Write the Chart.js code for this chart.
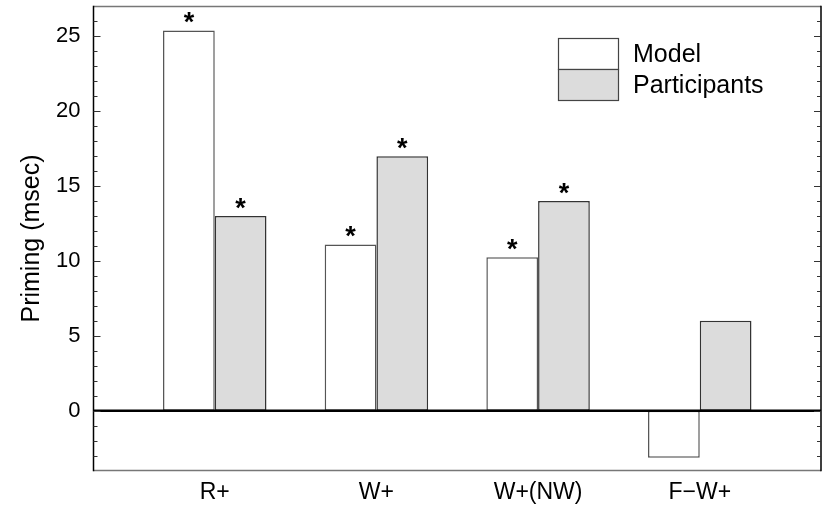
<!DOCTYPE html>
<html>
<head>
<meta charset="utf-8">
<script src="https://cdn.jsdelivr.net/npm/chart.js@4.4.1/dist/chart.umd.min.js"></script>
<style>
html,body{margin:0;padding:0;background:#fff;}
canvas{display:block;}
</style>
</head>
<body>
<canvas id="c" width="823" height="507"></canvas>
<script>
const categories = ['R+', 'W+', 'W+(NW)', 'F\u2212W+'];
const modelValues = [25.4, 11.1, 10.25, -3.15];
const participantValues = [13.0, 17.0, 14.0, 6.0];
const modelSignificant = [true, true, true, false];
const participantSignificant = [true, true, true, false];
const yTickValues = [0, 5, 10, 15, 20, 25];
const seriesNames = ['Model', 'Participants'];

const FONT = '"Liberation Sans", Arial, Helvetica, sans-serif';

const overlay = {
  id: 'overlay',
  afterDatasetsDraw(chart) {
    const ctx = chart.ctx;
    const ca = chart.chartArea;
    const ys = chart.scales.y;
    ctx.save();
    // zero line
    const y0 = ys.getPixelForValue(0);
    ctx.strokeStyle = '#000';
    ctx.lineWidth = 2.5;
    ctx.beginPath(); ctx.moveTo(ca.left, y0); ctx.lineTo(ca.right, y0); ctx.stroke();
    // box
    ctx.lineWidth = 1.5;
    ctx.strokeStyle = '#777';
    ctx.beginPath();
    ctx.moveTo(ca.left, ca.top); ctx.lineTo(ca.right, ca.top);
    ctx.moveTo(ca.left, ca.bottom); ctx.lineTo(ca.right, ca.bottom);
    ctx.stroke();
    ctx.strokeStyle = '#000';
    ctx.beginPath();
    ctx.moveTo(ca.left, ca.top - 0.75); ctx.lineTo(ca.left, ca.bottom + 0.75);
    ctx.moveTo(ca.right, ca.top - 0.75); ctx.lineTo(ca.right, ca.bottom + 0.75);
    ctx.stroke();
    // inward ticks
    ctx.strokeStyle = '#333';
    ctx.lineWidth = 1;
    for (let v = Math.ceil(ys.min); v < ys.max; v++) {
      if (v <= ys.min) continue;
      const py = Math.round(ys.getPixelForValue(v)) + 0.5;
      const len = (v % 5 === 0) ? 7 : 4;
      ctx.beginPath();
      ctx.moveTo(ca.left, py); ctx.lineTo(ca.left + len, py);
      ctx.moveTo(ca.right, py); ctx.lineTo(ca.right - len, py);
      ctx.stroke();
    }
    // asterisks
    ctx.fillStyle = '#000';
    ctx.font = 'bold 27px ' + FONT;
    ctx.textAlign = 'center';
    ctx.textBaseline = 'alphabetic';
    const sigs = [modelSignificant, participantSignificant];
    chart.data.datasets.forEach((ds, di) => {
      const meta = chart.getDatasetMeta(di);
      meta.data.forEach((bar, i) => {
        if (!sigs[di][i]) return;
        const top = Math.min(bar.y, bar.base);
        ctx.fillText('*', bar.x, top + 0.5);
      });
    });
    // legend
    const lx = 558.5, ly = 38.5, bw = 60, bh = 31;
    chart.data.datasets.forEach((ds, di) => {
      const by = ly + di * bh;
      ctx.fillStyle = ds.backgroundColor;
      ctx.fillRect(lx, by, bw, bh);
      ctx.strokeStyle = '#444';
      ctx.lineWidth = 1.2;
      ctx.strokeRect(lx, by, bw, bh);
      ctx.fillStyle = '#000';
      ctx.font = '25px ' + FONT;
      ctx.textAlign = 'left';
      ctx.textBaseline = 'middle';
      ctx.fillText(seriesNames[di], 633, by + bh / 2 + 1);
    });
    ctx.restore();
  }
};

new Chart(document.getElementById('c'), {
  type: 'bar',
  data: {
    datasets: [
      {
        label: seriesNames[0],
        data: modelValues.map((v, i) => ({x: i, y: v})),
        backgroundColor: '#ffffff',
        borderColor: '#555555',
        borderWidth: 1.5,
        borderSkipped: false
      },
      {
        label: seriesNames[1],
        data: participantValues.map((v, i) => ({x: i, y: v})),
        backgroundColor: '#dcdcdc',
        borderColor: '#333333',
        borderWidth: 1.5,
        borderSkipped: false
      }
    ]
  },
  options: {
    responsive: false,
    animation: false,
    devicePixelRatio: 1,
    layout: {padding: {top: 6.5, right: 2, left: 0, bottom: 0}},
    datasets: {bar: {categoryPercentage: 0.64, barPercentage: 1.0, grouped: true}},
    plugins: {legend: {display: false}, tooltip: {enabled: false}},
    scales: {
      x: {
        type: 'linear',
        offset: false,
        min: -0.75,
        max: 3.75,
        afterBuildTicks(scale) { scale.ticks = categories.map((c, i) => ({value: i})); },
        afterFit(scale) { scale.height = 36.5; scale.paddingLeft = 0; scale.paddingRight = 0; },
        grid: {display: false},
        border: {display: false},
        ticks: {
          callback: (v) => categories[v] !== undefined ? categories[v] : '',
          color: '#000',
          font: {family: FONT, size: 23},
          padding: 0,
          maxRotation: 0,
          autoSkip: false
        }
      },
      y: {
        min: -4,
        max: 27,
        afterBuildTicks(scale) { scale.ticks = yTickValues.map(v => ({value: v})); },
        afterFit(scale) { scale.width = 93.5; scale.paddingTop = 0; scale.paddingBottom = 0; },
        grid: {display: false},
        border: {display: false},
        ticks: {
          color: '#000',
          font: {family: FONT, size: 22},
          padding: 5
        },
        title: {
          display: true,
          text: 'Priming (msec)',
          color: '#000',
          font: {family: FONT, size: 25},
          padding: {top: 17, bottom: 0}
        }
      }
    }
  },
  plugins: [overlay]
});
</script>
</body>
</html>
